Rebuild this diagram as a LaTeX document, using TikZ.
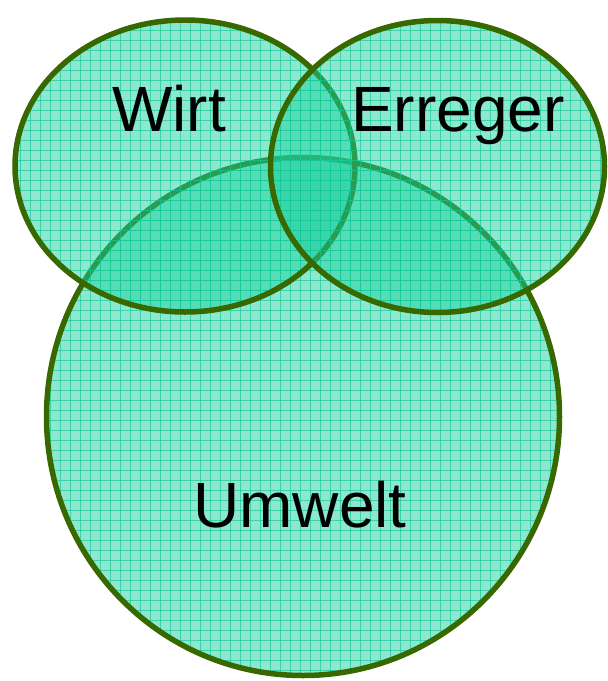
\documentclass[tikz,border=0pt]{standalone}
\usepackage{fontspec}
\setmainfont{Liberation Sans}
\definecolor{venfill}{RGB}{30,208,160}
\definecolor{vengrid}{RGB}{20,200,150}
\definecolor{venline}{RGB}{56,104,0}
\begin{document}
\begin{tikzpicture}[x=1pt,y=-1pt,
  setfill/.style={fill=venfill,fill opacity=0.5},
  setline/.style={draw=venline,line width=5.5pt},
  gridline/.style={draw=vengrid,line width=0.9pt,opacity=0.65},
  lbl/.style={font=\fontsize{64}{76}\selectfont,text=black,anchor=base,inner sep=0pt}]
\useasboundingbox (0,0) rectangle (608,681);
\newcommand{\vennset}[4]{%
  \fill[setfill] (#1,#2) ellipse [x radius=#3, y radius=#4];
  \begin{scope}
    \clip (#1,#2) ellipse [x radius=#3, y radius=#4];
    \foreach \gx in {0,10,...,610} {\draw[gridline] (\gx,0) -- (\gx,681);}
    \foreach \gy in {0,10,...,690} {\draw[gridline] (0,\gy) -- (608,\gy);}
  \end{scope}
  \draw[setline] (#1,#2) ellipse [x radius=#3, y radius=#4];
}
\vennset{303}{416.5}{256.5}{259}
\vennset{185}{166}{170}{146}
\vennset{437.5}{166.5}{167}{146}
\node[lbl] (wirt) at (169,131) {Wirt};
\node[lbl] (erreger) at (458,131) {Erreger};
\node[lbl] (umwelt) at (300,527) {Umwelt};
\end{tikzpicture}
\end{document}
